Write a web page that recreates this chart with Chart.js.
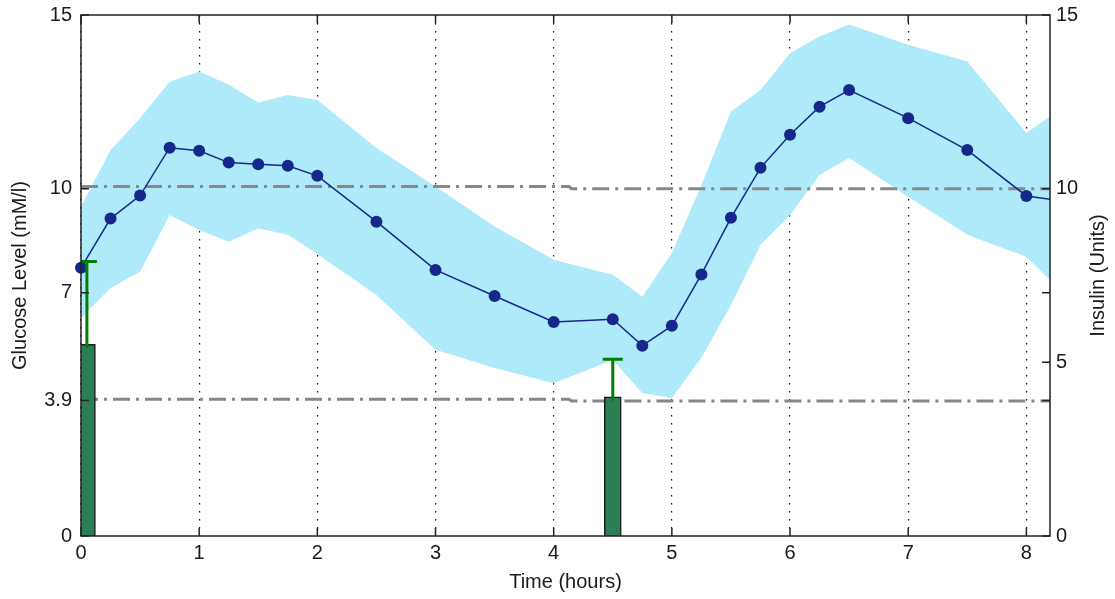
<!DOCTYPE html>
<html>
<head>
<meta charset="utf-8">
<script src="https://cdn.jsdelivr.net/npm/chart.js@4/dist/chart.umd.min.js"></script>
<style>
  body { margin: 0; background: #fff; }
  #wrap { width: 1115px; height: 599px; }
</style>
</head>
<body>
<div id="wrap"><canvas id="chart" width="1115" height="599"></canvas></div>
<script>
// sample times (hours)
const times = [0, 0.25, 0.5, 0.75, 1, 1.25, 1.5, 1.75, 2, 2.5, 3, 3.5, 4, 4.5, 4.75, 5, 5.25, 5.5, 5.75, 6, 6.25, 6.5, 7, 7.5, 8, 8.25];
// mean glucose and the band around it (mM/l)
const glucose = [7.72, 9.14, 9.80, 11.18, 11.09, 10.75, 10.70, 10.66, 10.37, 9.05, 7.66, 6.91, 6.16, 6.24, 5.48, 6.05, 7.53, 9.16, 10.60, 11.55, 12.36, 12.84, 12.03, 11.11, 9.79, 9.67];
const glucoseHigh = [9.48, 11.11, 12.03, 13.08, 13.37, 12.99, 12.48, 12.70, 12.55, 11.17, 10.06, 8.91, 7.95, 7.52, 6.89, 8.15, 10.1, 12.22, 12.84, 13.9, 14.38, 14.73, 14.14, 13.66, 11.6, 12.2];
const glucoseLow = [6.28, 7.14, 7.61, 9.24, 8.81, 8.47, 8.86, 8.67, 8.12, 6.94, 5.36, 4.84, 4.4, 5.07, 4.12, 3.97, 5.13, 6.65, 8.38, 9.24, 10.39, 10.88, 9.77, 8.67, 8.04, 7.2];

// insulin doses (units) with error tops
const doseTimes = [0.05, 4.5];
const insulin = [5.52, 4.01];
const insulinTop = [7.9, 5.09];

// threshold lines (dash-dot)
const limitX = [0, 4.13, 4.15, 8.25];
const hyperLimit = [10.06, 10.06, 10.0, 10.0];
const hypoLimit = [3.94, 3.94, 3.89, 3.89];

const xTicks = [0, 1, 2, 3, 4, 5, 6, 7, 8];
const glucoseTicks = [0, 3.9, 7, 10, 15];
const insulinTicks = [0, 5, 10, 15];

const pts = (xs, ys) => xs.map((x, i) => ({ x, y: ys[i] }));

const navy = '#15288a';
const font = { family: 'Liberation Sans, Arial, sans-serif', size: 20 };

const noPad = s => { s.paddingTop = 0; s.paddingBottom = 0; };

const frame = {
    id: 'frame',
    afterDatasetsDraw(chart) {
        const { ctx, chartArea: a, scales } = chart;
        const x = scales.x, y = scales.y, y2 = scales.y2;
        ctx.save();

        // error bars on the insulin doses
        ctx.strokeStyle = '#008000';
        ctx.lineWidth = 3;
        doseTimes.forEach((t, i) => {
            const px = x.getPixelForValue(t);
            const y0 = y2.getPixelForValue(insulin[i]) + 4;
            const y1 = y2.getPixelForValue(insulinTop[i]);
            ctx.beginPath();
            ctx.moveTo(px, y0);
            ctx.lineTo(px, y1);
            ctx.moveTo(Math.max(a.left, px - 10), y1);
            ctx.lineTo(px + 10, y1);
            ctx.stroke();
        });

        // box and inward ticks
        ctx.strokeStyle = '#222';
        ctx.lineWidth = 1.5;
        ctx.strokeRect(a.left, a.top, a.right - a.left, a.bottom - a.top);
        ctx.beginPath();
        xTicks.forEach(v => {
            const px = x.getPixelForValue(v);
            ctx.moveTo(px, a.bottom); ctx.lineTo(px, a.bottom - 8);
            ctx.moveTo(px, a.top); ctx.lineTo(px, a.top + 8);
        });
        glucoseTicks.forEach(v => {
            const py = y.getPixelForValue(v);
            ctx.moveTo(a.left, py); ctx.lineTo(a.left + 8, py);
            ctx.moveTo(a.right, py); ctx.lineTo(a.right - 8, py);
        });
        insulinTicks.forEach(v => {
            const py = y2.getPixelForValue(v);
            ctx.moveTo(a.right, py); ctx.lineTo(a.right - 8, py);
        });
        ctx.stroke();

        // right axis title, reading upward like the left one
        ctx.fillStyle = '#1a1a1a';
        ctx.font = `${font.size}px ${font.family}`;
        ctx.textAlign = 'center';
        ctx.textBaseline = 'middle';
        ctx.translate(1098, (a.top + a.bottom) / 2);
        ctx.rotate(-Math.PI / 2);
        ctx.fillText('Insulin (Units)', 0, 0);
        ctx.restore();
    }
};

new Chart(document.getElementById('chart'), {
    type: 'line',
    data: {
        datasets: [
            {
                data: pts(times, glucoseHigh),
                borderWidth: 0,
                pointRadius: 0,
                backgroundColor: '#aeeafa',
                fill: '+1',
                clip: 0,
                order: 5,
            },
            {
                data: pts(times, glucoseLow),
                borderWidth: 0,
                pointRadius: 0,
                fill: false,
                clip: 0,
                order: 5,
            },
            {
                data: pts(limitX, hyperLimit),
                borderColor: '#888',
                borderWidth: 3,
                borderDash: [17, 6, 3, 6],
                pointRadius: 0,
                clip: 0,
                order: 4,
            },
            {
                data: pts(limitX, hypoLimit),
                borderColor: '#888',
                borderWidth: 3,
                borderDash: [17, 6, 3, 6],
                pointRadius: 0,
                clip: 0,
                order: 4,
            },
            {
                data: pts(times, glucose),
                borderColor: navy,
                borderWidth: 1.5,
                pointRadius: 6,
                pointBorderWidth: 0,
                pointBackgroundColor: navy,
                clip: { left: 10, top: 0, right: 0, bottom: 0 },
                order: 2,
            },
            {
                type: 'bar',
                data: pts(doseTimes, insulin),
                yAxisID: 'y2',
                backgroundColor: '#2c7f55',
                borderColor: '#1b1b1b',
                borderWidth: 1.5,
                barThickness: 17,
                clip: 0,
                order: 1,
            },
        ],
    },
    options: {
        responsive: false,
        devicePixelRatio: 1,
        animation: false,
        layout: { padding: { top: 15, left: 0, right: 0, bottom: 0 } },
        plugins: { legend: { display: false }, tooltip: { enabled: false } },
        scales: {
            x: {
                type: 'linear',
                min: 0,
                max: 8.2,
                offset: false,
                afterBuildTicks: s => { s.ticks = xTicks.map(v => ({ value: v })); },
                afterFit: s => { s.height = 63; s.paddingLeft = 0; s.paddingRight = 0; },
                ticks: { color: '#1a1a1a', font, padding: 5, maxRotation: 0 },
                grid: {
                    offset: false,
                    color: '#111',
                    lineWidth: 1.2,
                    drawTicks: false,
                },
                border: { display: false, dash: [1.5, 6.5] },
                title: {
                    display: true,
                    text: 'Time (hours)',
                    color: '#1a1a1a',
                    font,
                    padding: { top: 0, bottom: 5 },
                },
            },
            y: {
                position: 'left',
                min: 0,
                max: 15,
                afterBuildTicks: s => { s.ticks = glucoseTicks.map(v => ({ value: v })); },
                afterFit: s => { s.width = 81; noPad(s); },
                ticks: { color: '#1a1a1a', font, padding: 9 },
                grid: { display: false, drawTicks: false },
                border: { display: false },
                title: {
                    display: true,
                    text: 'Glucose Level (mM/l)',
                    color: '#1a1a1a',
                    font,
                    padding: { top: 8, bottom: 0 },
                },
            },
            y2: {
                position: 'right',
                min: 0,
                max: 15,
                afterBuildTicks: s => { s.ticks = insulinTicks.map(v => ({ value: v })); },
                afterFit: s => { s.width = 65; noPad(s); },
                ticks: { color: '#1a1a1a', font, padding: 6 },
                grid: { display: false, drawTicks: false },
                border: { display: false },
            },
        },
    },
    plugins: [frame],
});
</script>
</body>
</html>
